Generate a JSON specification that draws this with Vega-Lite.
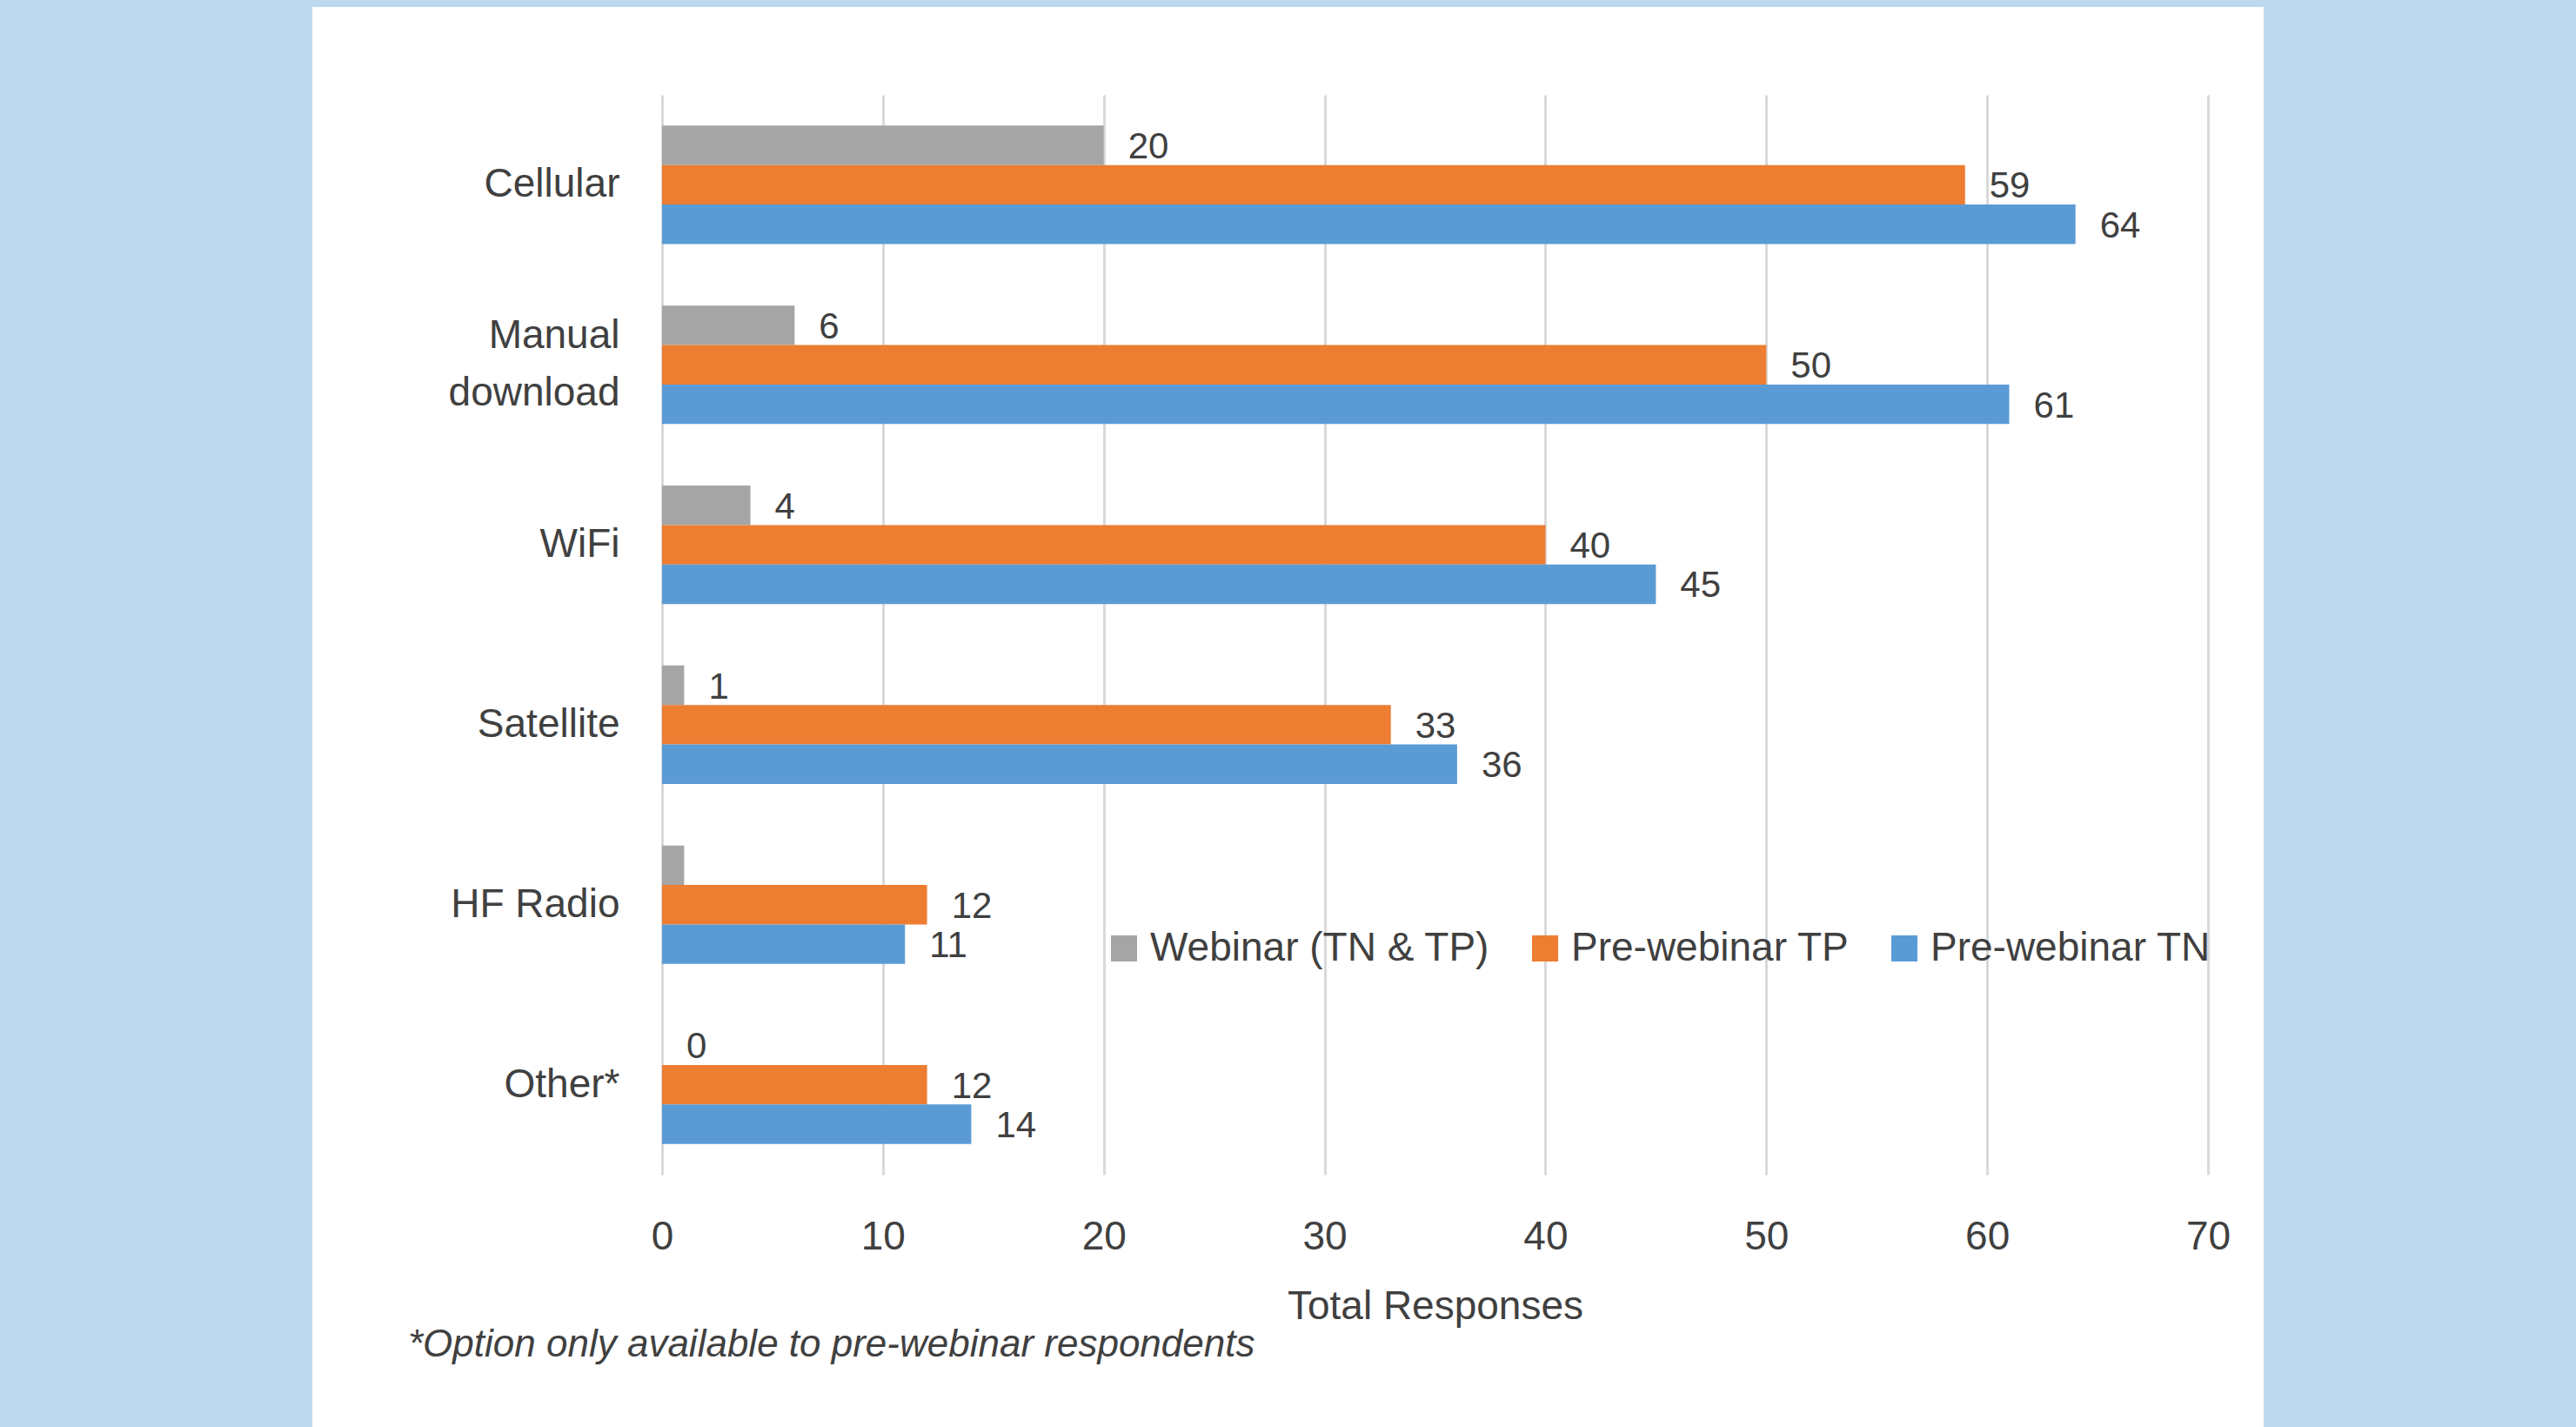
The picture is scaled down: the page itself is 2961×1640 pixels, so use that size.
{
  "$schema": "https://vega.github.io/schema/vega-lite/v6.json",
  "width": 2243,
  "height": 1632,
  "autosize": {"type": "none"},
  "padding": {"left": 359, "top": 8, "right": 359, "bottom": 0},
  "background": "#BDD7EE",
  "config": {
    "view": {"fill": "white", "stroke": null},
    "font": "Liberation Sans",
    "axis": {"labelFont": "Liberation Sans", "titleFont": "Liberation Sans"},
    "legend": {"labelFont": "Liberation Sans"},
    "text": {"font": "Liberation Sans"}
  },
  "title": {
    "text": "*Option only available to pre-webinar respondents",
    "orient": "bottom",
    "anchor": "start",
    "frame": "group",
    "offset": -116,
    "dx": 110,
    "font": "Liberation Sans",
    "fontSize": 44,
    "fontStyle": "italic",
    "fontWeight": "normal",
    "color": "#404040"
  },
  "data": {
    "values": [
      {"method": "Cellular", "series": "Webinar (TN & TP)", "n": 20},
      {"method": "Cellular", "series": "Pre-webinar TP", "n": 59},
      {"method": "Cellular", "series": "Pre-webinar TN", "n": 64},
      {"method": "Manual download", "series": "Webinar (TN & TP)", "n": 6},
      {"method": "Manual download", "series": "Pre-webinar TP", "n": 50},
      {"method": "Manual download", "series": "Pre-webinar TN", "n": 61},
      {"method": "WiFi", "series": "Webinar (TN & TP)", "n": 4},
      {"method": "WiFi", "series": "Pre-webinar TP", "n": 40},
      {"method": "WiFi", "series": "Pre-webinar TN", "n": 45},
      {"method": "Satellite", "series": "Webinar (TN & TP)", "n": 1},
      {"method": "Satellite", "series": "Pre-webinar TP", "n": 33},
      {"method": "Satellite", "series": "Pre-webinar TN", "n": 36},
      {"method": "HF Radio", "series": "Webinar (TN & TP)", "n": 1},
      {"method": "HF Radio", "series": "Pre-webinar TP", "n": 12},
      {"method": "HF Radio", "series": "Pre-webinar TN", "n": 11},
      {"method": "Other*", "series": "Webinar (TN & TP)", "n": 0},
      {"method": "Other*", "series": "Pre-webinar TP", "n": 12},
      {"method": "Other*", "series": "Pre-webinar TN", "n": 14}
    ]
  },
  "encoding": {
    "y": {
      "field": "method",
      "type": "nominal",
      "sort": ["Cellular", "Manual download", "WiFi", "Satellite", "HF Radio", "Other*"],
      "scale": {"range": [101, 1342], "paddingInner": 0.342, "paddingOuter": 0.171},
      "axis": {
        "orient": "left",
        "offset": -402,
        "title": null,
        "domain": false,
        "ticks": false,
        "tickSize": 0,
        "grid": false,
        "labelPadding": 49,
        "labelFontSize": 46,
        "labelColor": "#404040",
        "labelLimit": 1000,
        "labelLineHeight": 66,
        "labelOffset": {"condition": {"test": "datum.value == 'Manual download'", "value": -33}, "value": 0},
        "labelExpr": "datum.value == 'Manual download' ? ['Manual', 'download'] : datum.label"
      }
    },
    "yOffset": {
      "field": "series",
      "type": "nominal",
      "sort": ["Webinar (TN & TP)", "Pre-webinar TP", "Pre-webinar TN"],
      "scale": {"paddingInner": 0, "paddingOuter": 0}
    }
  },
  "layer": [
    {
      "mark": {"type": "bar"},
      "encoding": {
        "x": {
          "field": "n",
          "type": "quantitative",
          "scale": {"domain": [0, 70], "range": [402, 2179], "nice": false, "zero": true},
          "axis": {
            "orient": "top",
            "values": [0, 10, 20, 30, 40, 50, 60, 70],
            "grid": true,
            "gridColor": "#D9D9D9",
            "gridWidth": 3,
            "labels": false,
            "ticks": false,
            "domain": false,
            "title": null
          }
        },
        "color": {
          "field": "series",
          "type": "nominal",
          "sort": ["Webinar (TN & TP)", "Pre-webinar TP", "Pre-webinar TN"],
          "scale": {
            "domain": ["Webinar (TN & TP)", "Pre-webinar TP", "Pre-webinar TN"],
            "range": ["#A5A5A5", "#ED7D31", "#5B9BD5"]
          },
          "legend": {
            "orient": "none",
            "legendX": 910,
            "legendY": 1059,
            "direction": "horizontal",
            "columns": 3,
            "title": null,
            "padding": 0,
            "symbolType": "square",
            "symbolSize": 900,
            "symbolStrokeWidth": 0,
            "symbolOpacity": 1,
            "labelFontSize": 46,
            "labelColor": "#404040",
            "labelOffset": 7,
            "columnPadding": 40,
            "labelLimit": 1000
          }
        }
      }
    },
    {
      "transform": [
        {"filter": "!(datum.method == 'HF Radio' && datum.series == 'Webinar (TN & TP)')"}
      ],
      "mark": {
        "type": "text",
        "align": "left",
        "baseline": "middle",
        "dx": 28,
        "dy": 2,
        "fontSize": 42,
        "color": "#404040"
      },
      "encoding": {
        "x": {
          "field": "n",
          "type": "quantitative",
          "scale": {"domain": [0, 70], "range": [402, 2179], "nice": false, "zero": true},
          "axis": {
            "orient": "bottom",
            "offset": -290,
            "values": [0, 10, 20, 30, 40, 50, 60, 70],
            "grid": false,
            "domain": false,
            "ticks": false,
            "tickSize": 0,
            "labelFlush": false,
            "labelPadding": 49,
            "labelFontSize": 46,
            "labelColor": "#404040",
            "title": "Total Responses",
            "titleFontSize": 46,
            "titleFontWeight": "normal",
            "titleColor": "#404040",
            "titlePadding": 35
          }
        },
        "text": {"field": "n", "type": "quantitative", "format": "d"}
      }
    }
  ],
  "resolve": {"axis": {"x": "independent"}}
}
